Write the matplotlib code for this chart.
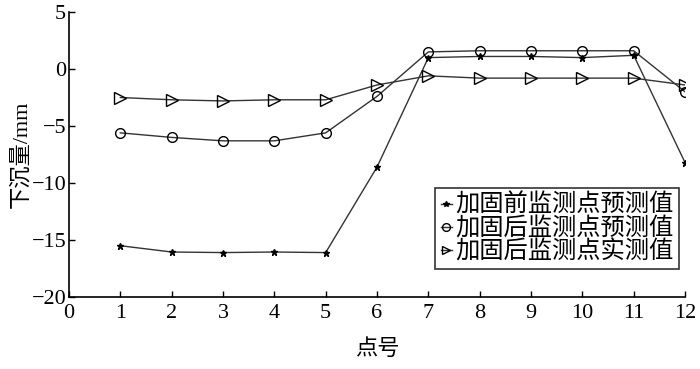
import numpy as np
import matplotlib
matplotlib.use("Agg")
import matplotlib.pyplot as plt

# шрифты: цифры как Times, иероглифы из CJK
plt.rcParams["font.family"] = ["Liberation Serif", "Noto Sans CJK SC"]
plt.rcParams["axes.unicode_minus"] = True

points = np.arange(1, 13)
before_pred = [-15.5, -16.05, -16.1, -16.05, -16.1, -8.6, 1.0, 1.1, 1.1, 1.0, 1.2, -8.2]
after_pred = [-5.6, -6.0, -6.3, -6.3, -5.6, -2.4, 1.5, 1.6, 1.6, 1.6, 1.6, -2.0]
after_meas = [-2.5, -2.7, -2.8, -2.7, -2.7, -1.4, -0.6, -0.8, -0.8, -0.8, -0.8, -1.4]
labels = ["加固前监测点预测值", "加固后监测点预测值", "加固后监测点实测值"]

fig = plt.figure(figsize=(7, 3.69), dpi=100)
ax = fig.add_axes([0.0986, 0.195, 0.88, 0.7725])

lc = "#333333"
ax.plot(points, before_pred, color=lc, lw=1.0, marker="*", ms=5, mfc="k", mec="k", label=labels[0])
ax.plot(points, after_pred, color=lc, lw=1.0, marker="o", ms=7, mfc="none", mec="k", label=labels[1])
ax.plot(points, after_meas, color=lc, lw=1.0, marker=">", ms=8, mfc="none", mec="k", label=labels[2])

ax.set_xlim(0, 12)
ax.set_ylim(-20, 5)
ax.set_xticks(range(0, 13))
ax.set_yticks([-20, -15, -10, -5, 0, 5])
ax.tick_params(direction="in", labelsize=16, length=4, width=1)
ax.tick_params(axis="x", pad=5)
ax.tick_params(axis="y", pad=2)
ax.spines["top"].set_visible(False)
ax.spines["right"].set_visible(False)
for s in ["left", "bottom"]:
    ax.spines[s].set_linewidth(1.2)

ax.set_xlabel("点号", fontsize=16, labelpad=12)
ax.set_ylabel("下沉量/mm", fontsize=16, labelpad=0)

leg = ax.legend(loc="lower right", bbox_to_anchor=(0.990, 0.10), fontsize=17.5,
                frameon=True, fancybox=False, edgecolor="k", handlelength=0.45,
                handletextpad=0.15, borderpad=0.22, labelspacing=0.0, borderaxespad=0,
                markerscale=0.8)
leg.get_frame().set_linewidth(1.2)

fig.savefig("out.png", dpi=100)
